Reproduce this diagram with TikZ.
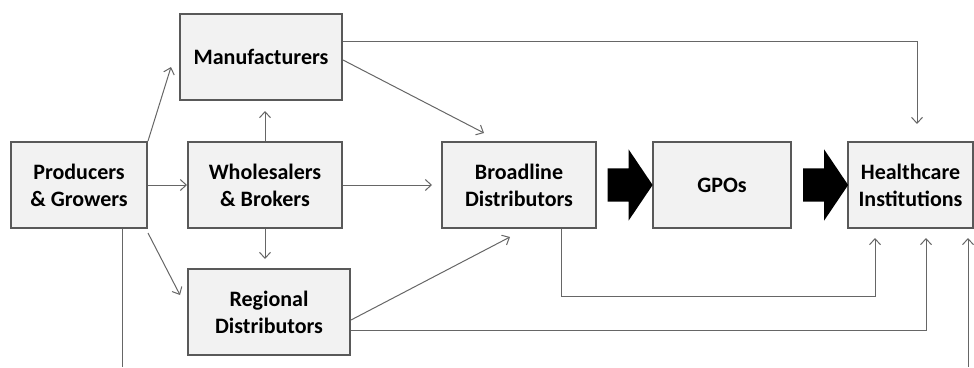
\documentclass[tikz,border=0pt]{standalone}
\usepackage{fontspec}
\setmainfont{Carlito}
\usetikzlibrary{arrows.meta,shapes.arrows}

\begin{document}
\begin{tikzpicture}[x=1pt,y=-1pt]
  \tikzstyle{box}=[draw=black!65,line width=2pt,fill=black!5,align=center,minimum height=86pt,inner sep=0pt,font=\fontsize{22}{27}\selectfont\bfseries]
  \tikzstyle{conn}=[draw=black!60,line width=1pt,-{Straight Barb[length=6pt,width=11pt]}]
  \tikzstyle{bigarrow}=[single arrow,fill=black,inner xsep=0pt,inner ysep=16.5pt,minimum height=45pt,single arrow head extend=19pt,single arrow tip angle=112]
  \useasboundingbox (0,0) rectangle (974,367);

  \node[box,minimum width=136pt] (prod)   at (79,185)    {Producers\\\& Growers};
  \node[box,minimum width=162pt] (manu)   at (261,57)    {Manufacturers};
  \node[box,minimum width=154pt] (whole)  at (265,185)   {Wholesalers\\\& Brokers};
  \node[box,minimum width=162pt] (region) at (269,312)   {Regional\\Distributors};
  \node[box,minimum width=154pt] (broad)  at (519,185)   {Broadline\\Distributors};
  \node[box,minimum width=138pt] (gpo)    at (722,185)   {GPOs};
  \node[box,minimum width=125pt] (health) at (910.5,185) {Healthcare\\Institutions};

  \node[bigarrow] (flowA) at (624.5,185) {};
  \node[bigarrow] (flowB) at (820,185) {};

  \coordinate (prodEnd) at (122,367);
  \coordinate (sideIn)  at (968,367);

  % from producers
  \draw[conn] (prod.north east) -- ([xshift=-8pt,yshift=-10pt]manu.west);
  \draw[conn] (prod) -- (whole);
  \draw[conn] ([yshift=-4pt]prod.south east) -- ([xshift=-7pt,yshift=17pt]region.west);
  \draw[draw=black!60,line width=1pt] ([xshift=43pt]prod.south) -- (prodEnd);

  % from wholesalers
  \draw[conn,shorten >=10pt] (whole.north) -- (whole.north |- manu.south);
  \draw[conn,shorten >=9pt] (whole.south) -- (whole.south |- region.north);
  \draw[conn,shorten >=9pt] (whole) -- (broad);

  % to broadline and healthcare
  \draw[conn] ([yshift=-3pt]manu.east) -- ([xshift=-35pt,yshift=8pt]broad.north);
  \draw[conn] ([yshift=16pt]manu.east) -| ([xshift=6.5pt,yshift=17pt]health.north);
  \draw[conn] ([yshift=-8pt]region.east) -- ([xshift=-9pt,yshift=-8pt]broad.south);
  \draw[conn] ([yshift=-18pt]region.east) -| ([xshift=15.5pt,yshift=-9pt]health.south);
  \draw[conn] ([xshift=42pt]broad.south) -- ++(0,67) -| ([xshift=-35.5pt,yshift=-9pt]health.south);
  \draw[conn] (sideIn) -- ([xshift=57.5pt,yshift=-9pt]health.south);

\end{tikzpicture}
\end{document}
